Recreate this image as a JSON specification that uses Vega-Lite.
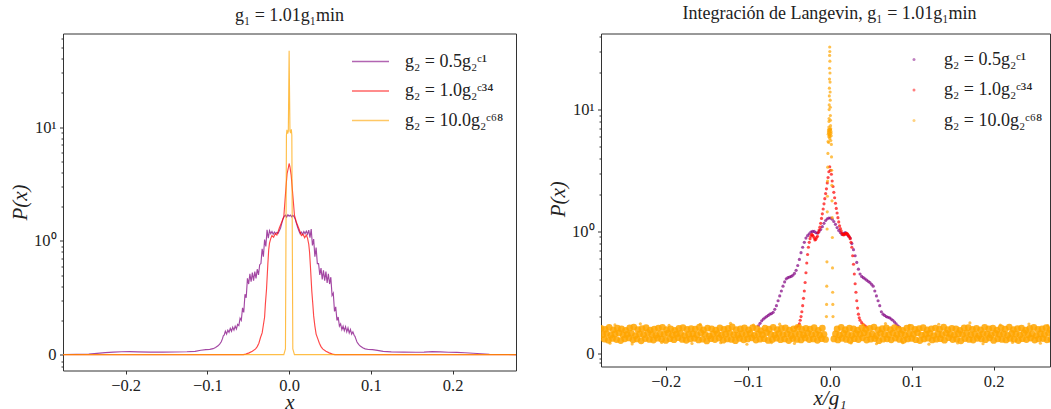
{
"$schema": "https://vega.github.io/schema/vega-lite/v6.json",
"background": "white",
"padding": {"left": 9, "top": 3.5, "right": 0, "bottom": 0},
"spacing": 30,
"config": {
  "font": "Liberation Serif",
  "view": {"stroke": "#333333", "strokeWidth": 1},
  "axis": {"labelFont": "Liberation Serif", "labelFontSize": 16.5, "labelColor": "#222222", "titleFont": "Liberation Serif", "titleFontSize": 21, "titleFontWeight": "normal", "titleFontStyle": "italic", "titleColor": "#222222", "domain": false, "grid": false, "tickColor": "#333333", "ticks": true, "labelPadding": 3.5, "titlePadding": 3},
  "title": {"font": "Liberation Serif", "fontSize": 18, "fontWeight": "normal", "color": "#222222", "offset": 5.5},
  "legend": {"labelFont": "Liberation Serif", "labelFontSize": 18, "labelColor": "#222222"}
},
"resolve": {"scale": {"color": "independent"}, "legend": {"color": "independent"}},
"datasets": {
"L": [
{"s":"a","x":-0.28,"y":0},{"s":"a","x":-0.26,"y":0.002},{"s":"a","x":-0.245,"y":0.005},{"s":"a","x":-0.235,"y":0.011},{"s":"a","x":-0.225,"y":0.017},{"s":"a","x":-0.215,"y":0.021},{"s":"a","x":-0.205,"y":0.025},{"s":"a","x":-0.195,"y":0.026},{"s":"a","x":-0.185,"y":0.024},{"s":"a","x":-0.17,"y":0.022},{"s":"a","x":-0.155,"y":0.021},{"s":"a","x":-0.14,"y":0.023},{"s":"a","x":-0.125,"y":0.025},{"s":"a","x":-0.115,"y":0.028},{"s":"a","x":-0.108,"y":0.038},{"s":"a","x":-0.102,"y":0.044},{"s":"a","x":-0.097,"y":0.046},{"s":"a","x":-0.093,"y":0.052},{"s":"a","x":-0.09,"y":0.062},{"s":"a","x":-0.087,"y":0.077},{"s":"a","x":-0.085,"y":0.092},{"s":"a","x":-0.083,"y":0.112},{"s":"a","x":-0.0815,"y":0.14},{"s":"a","x":-0.0805,"y":0.165},{"s":"a","x":-0.0795,"y":0.17},{"s":"a","x":-0.078,"y":0.205},{"s":"a","x":-0.0765,"y":0.18},{"s":"a","x":-0.075,"y":0.215},{"s":"a","x":-0.0735,"y":0.195},{"s":"a","x":-0.072,"y":0.23},{"s":"a","x":-0.0705,"y":0.205},{"s":"a","x":-0.069,"y":0.24},{"s":"a","x":-0.0675,"y":0.215},{"s":"a","x":-0.066,"y":0.25},{"s":"a","x":-0.0645,"y":0.225},{"s":"a","x":-0.063,"y":0.265},{"s":"a","x":-0.0615,"y":0.255},{"s":"a","x":-0.06,"y":0.32},{"s":"a","x":-0.0585,"y":0.3},{"s":"a","x":-0.057,"y":0.41},{"s":"a","x":-0.0555,"y":0.37},{"s":"a","x":-0.054,"y":0.53},{"s":"a","x":-0.0525,"y":0.5},{"s":"a","x":-0.051,"y":0.67},{"s":"a","x":-0.0495,"y":0.62},{"s":"a","x":-0.048,"y":0.71},{"s":"a","x":-0.0465,"y":0.64},{"s":"a","x":-0.045,"y":0.72},{"s":"a","x":-0.0435,"y":0.65},{"s":"a","x":-0.042,"y":0.73},{"s":"a","x":-0.0405,"y":0.67},{"s":"a","x":-0.039,"y":0.75},{"s":"a","x":-0.0375,"y":0.7},{"s":"a","x":-0.036,"y":0.79},{"s":"a","x":-0.0345,"y":0.8},{"s":"a","x":-0.033,"y":0.93},{"s":"a","x":-0.0315,"y":0.86},{"s":"a","x":-0.03,"y":1.03},{"s":"a","x":-0.0285,"y":0.95},{"s":"a","x":-0.027,"y":1.25},{"s":"a","x":-0.0255,"y":1.06},{"s":"a","x":-0.024,"y":1.23},{"s":"a","x":-0.0225,"y":1.16},{"s":"a","x":-0.021,"y":1.21},{"s":"a","x":-0.0195,"y":1.15},{"s":"a","x":-0.018,"y":1.2},{"s":"a","x":-0.0165,"y":1.16},{"s":"a","x":-0.015,"y":1.19},{"s":"a","x":-0.0135,"y":1.17},{"s":"a","x":-0.012,"y":1.23},{"s":"a","x":-0.0105,"y":1.3},{"s":"a","x":-0.009,"y":1.43},{"s":"a","x":-0.0075,"y":1.56},{"s":"a","x":-0.006,"y":1.66},{"s":"a","x":-0.0045,"y":1.7},{"s":"a","x":-0.003,"y":1.63},{"s":"a","x":-0.0015,"y":1.71},{"s":"a","x":0,"y":1.66},
{"s":"a","x":0.0015,"y":1.7},{"s":"a","x":0.003,"y":1.64},{"s":"a","x":0.0045,"y":1.69},{"s":"a","x":0.006,"y":1.65},{"s":"a","x":0.0075,"y":1.55},{"s":"a","x":0.009,"y":1.42},{"s":"a","x":0.0105,"y":1.31},{"s":"a","x":0.012,"y":1.22},{"s":"a","x":0.0135,"y":1.16},{"s":"a","x":0.015,"y":1.2},{"s":"a","x":0.0165,"y":1.15},{"s":"a","x":0.018,"y":1.21},{"s":"a","x":0.0195,"y":1.16},{"s":"a","x":0.021,"y":1.22},{"s":"a","x":0.0225,"y":1.15},{"s":"a","x":0.024,"y":1.24},{"s":"a","x":0.0255,"y":1.07},{"s":"a","x":0.027,"y":1.27},{"s":"a","x":0.0285,"y":0.96},{"s":"a","x":0.03,"y":1.04},{"s":"a","x":0.0315,"y":0.86},{"s":"a","x":0.033,"y":0.94},{"s":"a","x":0.0345,"y":0.8},{"s":"a","x":0.036,"y":0.8},{"s":"a","x":0.0375,"y":0.7},{"s":"a","x":0.039,"y":0.76},{"s":"a","x":0.0405,"y":0.66},{"s":"a","x":0.042,"y":0.74},{"s":"a","x":0.0435,"y":0.65},{"s":"a","x":0.045,"y":0.73},{"s":"a","x":0.0465,"y":0.63},{"s":"a","x":0.048,"y":0.71},{"s":"a","x":0.0495,"y":0.62},{"s":"a","x":0.051,"y":0.68},{"s":"a","x":0.0525,"y":0.52},{"s":"a","x":0.054,"y":0.54},{"s":"a","x":0.0555,"y":0.38},{"s":"a","x":0.057,"y":0.42},{"s":"a","x":0.0585,"y":0.3},{"s":"a","x":0.06,"y":0.33},{"s":"a","x":0.0615,"y":0.25},{"s":"a","x":0.063,"y":0.27},{"s":"a","x":0.0645,"y":0.22},{"s":"a","x":0.066,"y":0.25},{"s":"a","x":0.0675,"y":0.21},{"s":"a","x":0.069,"y":0.245},{"s":"a","x":0.0705,"y":0.2},{"s":"a","x":0.072,"y":0.235},{"s":"a","x":0.0735,"y":0.19},{"s":"a","x":0.075,"y":0.22},{"s":"a","x":0.0765,"y":0.18},{"s":"a","x":0.078,"y":0.2},{"s":"a","x":0.0795,"y":0.17},{"s":"a","x":0.0805,"y":0.16},{"s":"a","x":0.0815,"y":0.14},{"s":"a","x":0.083,"y":0.11},{"s":"a","x":0.085,"y":0.09},{"s":"a","x":0.087,"y":0.075},{"s":"a","x":0.09,"y":0.06},{"s":"a","x":0.093,"y":0.05},{"s":"a","x":0.097,"y":0.045},{"s":"a","x":0.102,"y":0.043},{"s":"a","x":0.108,"y":0.037},{"s":"a","x":0.115,"y":0.028},{"s":"a","x":0.125,"y":0.024},{"s":"a","x":0.14,"y":0.022},{"s":"a","x":0.155,"y":0.02},{"s":"a","x":0.165,"y":0.022},{"s":"a","x":0.175,"y":0.026},{"s":"a","x":0.185,"y":0.024},{"s":"a","x":0.195,"y":0.02},{"s":"a","x":0.205,"y":0.019},{"s":"a","x":0.215,"y":0.016},{"s":"a","x":0.225,"y":0.012},{"s":"a","x":0.235,"y":0.007},{"s":"a","x":0.245,"y":0.003},{"s":"a","x":0.26,"y":0.001},{"s":"a","x":0.28,"y":0},
{"s":"b","x":-0.28,"y":0},{"s":"b","x":-0.056,"y":0},{"s":"b","x":-0.053,"y":0.004},{"s":"b","x":-0.049,"y":0.015},{"s":"b","x":-0.045,"y":0.03},{"s":"b","x":-0.041,"y":0.05},{"s":"b","x":-0.039,"y":0.07},{"s":"b","x":-0.037,"y":0.1},{"s":"b","x":-0.035,"y":0.15},{"s":"b","x":-0.033,"y":0.19},{"s":"b","x":-0.0315,"y":0.26},{"s":"b","x":-0.03,"y":0.33},{"s":"b","x":-0.029,"y":0.45},{"s":"b","x":-0.0277,"y":0.57},{"s":"b","x":-0.026,"y":0.8},{"s":"b","x":-0.025,"y":0.92},{"s":"b","x":-0.024,"y":0.98},{"s":"b","x":-0.0225,"y":1.05},{"s":"b","x":-0.021,"y":1.12},{"s":"b","x":-0.019,"y":1.08},{"s":"b","x":-0.017,"y":1.16},{"s":"b","x":-0.015,"y":1.13},{"s":"b","x":-0.012,"y":1.3},{"s":"b","x":-0.009,"y":1.47},{"s":"b","x":-0.0065,"y":1.65},{"s":"b","x":-0.005,"y":2.3},{"s":"b","x":-0.0035,"y":3.2},{"s":"b","x":-0.0025,"y":3.9},{"s":"b","x":-0.001,"y":4.4},{"s":"b","x":0,"y":4.8},{"s":"b","x":0.001,"y":4.5},{"s":"b","x":0.0025,"y":3.8},{"s":"b","x":0.0035,"y":3.1},{"s":"b","x":0.005,"y":2.3},{"s":"b","x":0.0065,"y":1.7},{"s":"b","x":0.009,"y":1.45},{"s":"b","x":0.012,"y":1.28},{"s":"b","x":0.015,"y":1.12},{"s":"b","x":0.017,"y":1.15},{"s":"b","x":0.019,"y":1.07},{"s":"b","x":0.021,"y":1.13},{"s":"b","x":0.0225,"y":1.06},{"s":"b","x":0.024,"y":0.97},{"s":"b","x":0.025,"y":0.9},{"s":"b","x":0.026,"y":0.78},{"s":"b","x":0.0277,"y":0.56},{"s":"b","x":0.029,"y":0.44},{"s":"b","x":0.03,"y":0.34},{"s":"b","x":0.0315,"y":0.25},{"s":"b","x":0.033,"y":0.18},{"s":"b","x":0.035,"y":0.14},{"s":"b","x":0.037,"y":0.1},{"s":"b","x":0.039,"y":0.07},{"s":"b","x":0.041,"y":0.05},{"s":"b","x":0.045,"y":0.03},{"s":"b","x":0.049,"y":0.015},{"s":"b","x":0.053,"y":0.004},{"s":"b","x":0.056,"y":0},{"s":"b","x":0.28,"y":0},
{"s":"c","x":-0.28,"y":0},{"s":"c","x":-0.0065,"y":0},{"s":"c","x":-0.0045,"y":0.05},{"s":"c","x":-0.0037,"y":2},{"s":"c","x":-0.0033,"y":8.5},{"s":"c","x":-0.0027,"y":9.5},{"s":"c","x":-0.0018,"y":8.8},{"s":"c","x":-0.001,"y":9.2},{"s":"c","x":-0.0005,"y":20},{"s":"c","x":0,"y":47},{"s":"c","x":0.0005,"y":20},{"s":"c","x":0.001,"y":9.3},{"s":"c","x":0.0018,"y":8.9},{"s":"c","x":0.0027,"y":9.6},{"s":"c","x":0.0033,"y":8.5},{"s":"c","x":0.0037,"y":2},{"s":"c","x":0.0045,"y":0.05},{"s":"c","x":0.0065,"y":0},{"s":"c","x":0.28,"y":0}
],
"R": [
{"s":"a","x":-0.087,"y":0.225},{"s":"a","x":-0.085,"y":0.245},{"s":"a","x":-0.083,"y":0.265},{"s":"a","x":-0.081,"y":0.28},{"s":"a","x":-0.079,"y":0.29},{"s":"a","x":-0.077,"y":0.3},{"s":"a","x":-0.075,"y":0.31},{"s":"a","x":-0.073,"y":0.32},{"s":"a","x":-0.071,"y":0.325},{"s":"a","x":-0.069,"y":0.335},{"s":"a","x":-0.067,"y":0.36},{"s":"a","x":-0.065,"y":0.39},{"s":"a","x":-0.063,"y":0.43},{"s":"a","x":-0.061,"y":0.47},{"s":"a","x":-0.059,"y":0.51},{"s":"a","x":-0.057,"y":0.55},{"s":"a","x":-0.055,"y":0.585},{"s":"a","x":-0.053,"y":0.61},{"s":"a","x":-0.051,"y":0.62},{"s":"a","x":-0.049,"y":0.625},{"s":"a","x":-0.047,"y":0.63},{"s":"a","x":-0.045,"y":0.64},{"s":"a","x":-0.043,"y":0.655},{"s":"a","x":-0.041,"y":0.68},{"s":"a","x":-0.039,"y":0.72},{"s":"a","x":-0.037,"y":0.77},{"s":"a","x":-0.035,"y":0.825},{"s":"a","x":-0.033,"y":0.87},{"s":"a","x":-0.031,"y":0.91},{"s":"a","x":-0.029,"y":0.945},{"s":"a","x":-0.027,"y":0.965},{"s":"a","x":-0.025,"y":0.98},{"s":"a","x":-0.023,"y":0.995},{"s":"a","x":-0.021,"y":1.0},{"s":"a","x":-0.019,"y":1.0},{"s":"a","x":-0.017,"y":0.99},{"s":"a","x":-0.015,"y":0.985},{"s":"a","x":-0.013,"y":1.0},{"s":"a","x":-0.011,"y":1.04},{"s":"a","x":-0.009,"y":1.1},{"s":"a","x":-0.007,"y":1.17},{"s":"a","x":-0.005,"y":1.23},{"s":"a","x":-0.003,"y":1.27},{"s":"a","x":-0.001,"y":1.29},
{"s":"a","x":0.001,"y":1.29},{"s":"a","x":0.003,"y":1.26},{"s":"a","x":0.005,"y":1.21},{"s":"a","x":0.007,"y":1.15},{"s":"a","x":0.009,"y":1.08},{"s":"a","x":0.011,"y":1.02},{"s":"a","x":0.013,"y":0.99},{"s":"a","x":0.015,"y":0.975},{"s":"a","x":0.017,"y":0.985},{"s":"a","x":0.019,"y":0.99},{"s":"a","x":0.021,"y":0.975},{"s":"a","x":0.023,"y":0.96},{"s":"a","x":0.025,"y":0.945},{"s":"a","x":0.027,"y":0.9},{"s":"a","x":0.029,"y":0.85},{"s":"a","x":0.031,"y":0.8},{"s":"a","x":0.033,"y":0.745},{"s":"a","x":0.035,"y":0.69},{"s":"a","x":0.037,"y":0.65},{"s":"a","x":0.039,"y":0.63},{"s":"a","x":0.041,"y":0.62},{"s":"a","x":0.043,"y":0.61},{"s":"a","x":0.045,"y":0.6},{"s":"a","x":0.047,"y":0.59},{"s":"a","x":0.049,"y":0.58},{"s":"a","x":0.051,"y":0.565},{"s":"a","x":0.053,"y":0.55},{"s":"a","x":0.055,"y":0.51},{"s":"a","x":0.057,"y":0.47},{"s":"a","x":0.059,"y":0.43},{"s":"a","x":0.061,"y":0.39},{"s":"a","x":0.063,"y":0.34},{"s":"a","x":0.065,"y":0.32},{"s":"a","x":0.067,"y":0.31},{"s":"a","x":0.069,"y":0.3},{"s":"a","x":0.071,"y":0.295},{"s":"a","x":0.073,"y":0.29},{"s":"a","x":0.075,"y":0.28},{"s":"a","x":0.077,"y":0.27},{"s":"a","x":0.079,"y":0.255},{"s":"a","x":0.081,"y":0.24},{"s":"a","x":0.083,"y":0.225},{"s":"a","x":0.085,"y":0.215},
{"s":"b","x":-0.042,"y":0.21},{"s":"b","x":-0.04,"y":0.215},{"s":"b","x":-0.038,"y":0.225},{"s":"b","x":-0.037,"y":0.24},{"s":"b","x":-0.036,"y":0.27},{"s":"b","x":-0.035,"y":0.3},{"s":"b","x":-0.034,"y":0.34},{"s":"b","x":-0.033,"y":0.39},{"s":"b","x":-0.032,"y":0.45},{"s":"b","x":-0.031,"y":0.51},{"s":"b","x":-0.03,"y":0.58},{"s":"b","x":-0.029,"y":0.66},{"s":"b","x":-0.028,"y":0.74},{"s":"b","x":-0.027,"y":0.81},{"s":"b","x":-0.026,"y":0.87},{"s":"b","x":-0.025,"y":0.91},{"s":"b","x":-0.024,"y":0.94},{"s":"b","x":-0.023,"y":0.96},{"s":"b","x":-0.022,"y":0.975},{"s":"b","x":-0.021,"y":0.97},{"s":"b","x":-0.02,"y":0.96},{"s":"b","x":-0.019,"y":0.945},{"s":"b","x":-0.018,"y":0.93},{"s":"b","x":-0.017,"y":0.935},{"s":"b","x":-0.016,"y":0.95},{"s":"b","x":-0.015,"y":0.96},{"s":"b","x":-0.014,"y":0.99},{"s":"b","x":-0.013,"y":1.03},{"s":"b","x":-0.012,"y":1.09},{"s":"b","x":-0.011,"y":1.17},{"s":"b","x":-0.01,"y":1.28},{"s":"b","x":-0.009,"y":1.4},{"s":"b","x":-0.008,"y":1.53},{"s":"b","x":-0.007,"y":1.7},{"s":"b","x":-0.006,"y":1.87},{"s":"b","x":-0.005,"y":2.05},{"s":"b","x":-0.004,"y":2.25},{"s":"b","x":-0.003,"y":2.5},{"s":"b","x":-0.002,"y":2.78},{"s":"b","x":-0.001,"y":3.1},{"s":"b","x":0,"y":3.43},{"s":"b","x":0.001,"y":3.2},{"s":"b","x":0.002,"y":2.95},{"s":"b","x":0.003,"y":2.6},{"s":"b","x":0.004,"y":2.35},{"s":"b","x":0.005,"y":2.1},{"s":"b","x":0.006,"y":1.9},{"s":"b","x":0.007,"y":1.72},{"s":"b","x":0.008,"y":1.55},{"s":"b","x":0.009,"y":1.42},{"s":"b","x":0.01,"y":1.3},{"s":"b","x":0.011,"y":1.2},{"s":"b","x":0.012,"y":1.12},{"s":"b","x":0.013,"y":1.06},{"s":"b","x":0.014,"y":1.01},{"s":"b","x":0.015,"y":0.985},{"s":"b","x":0.016,"y":0.975},{"s":"b","x":0.017,"y":0.97},{"s":"b","x":0.018,"y":0.975},{"s":"b","x":0.019,"y":0.98},{"s":"b","x":0.02,"y":0.985},{"s":"b","x":0.021,"y":0.985},{"s":"b","x":0.022,"y":0.975},{"s":"b","x":0.023,"y":0.965},{"s":"b","x":0.024,"y":0.955},{"s":"b","x":0.025,"y":0.94},{"s":"b","x":0.026,"y":0.91},{"s":"b","x":0.027,"y":0.87},{"s":"b","x":0.028,"y":0.8},{"s":"b","x":0.029,"y":0.73},{"s":"b","x":0.03,"y":0.65},{"s":"b","x":0.031,"y":0.57},{"s":"b","x":0.032,"y":0.5},{"s":"b","x":0.033,"y":0.43},{"s":"b","x":0.034,"y":0.37},{"s":"b","x":0.035,"y":0.32},{"s":"b","x":0.036,"y":0.29},{"s":"b","x":0.037,"y":0.27},{"s":"b","x":0.039,"y":0.25},{"s":"b","x":0.041,"y":0.235},{"s":"b","x":0.043,"y":0.225},{"s":"b","x":0.045,"y":0.215},
{"s":"c","x":-0.004,"y":0.3},{"s":"c","x":-0.0038,"y":0.4},{"s":"c","x":-0.0036,"y":0.55},{"s":"c","x":-0.0034,"y":0.75},{"s":"c","x":-0.0032,"y":1.05},{"s":"c","x":-0.003,"y":1.45},{"s":"c","x":-0.0028,"y":1.95},{"s":"c","x":-0.0026,"y":2.6},{"s":"c","x":-0.0024,"y":3.4},{"s":"c","x":-0.0022,"y":4.4},{"s":"c","x":-0.002,"y":5.5},{"s":"c","x":-0.0018,"y":6.3},{"s":"c","x":-0.0016,"y":6.7},{"s":"c","x":-0.0014,"y":6.5},{"s":"c","x":-0.0012,"y":6.9},{"s":"c","x":-0.001,"y":7.2},{"s":"c","x":-0.0008,"y":8.5},{"s":"c","x":-0.0006,"y":11},{"s":"c","x":-0.0004,"y":15},{"s":"c","x":-0.0002,"y":22},{"s":"c","x":0,"y":33},{"s":"c","x":0.0002,"y":25},{"s":"c","x":0.0004,"y":17},{"s":"c","x":0.0006,"y":12},{"s":"c","x":0.0008,"y":9},{"s":"c","x":0.001,"y":7.4},{"s":"c","x":0.0012,"y":6.8},{"s":"c","x":0.0014,"y":6.4},{"s":"c","x":0.0016,"y":6.6},{"s":"c","x":0.0018,"y":6.1},{"s":"c","x":0.002,"y":5.2},{"s":"c","x":0.0022,"y":4.1},{"s":"c","x":0.0024,"y":3.2},{"s":"c","x":0.0026,"y":2.4},{"s":"c","x":0.0028,"y":1.8},{"s":"c","x":0.003,"y":1.3},{"s":"c","x":0.0032,"y":0.95},{"s":"c","x":0.0034,"y":0.7},{"s":"c","x":0.0036,"y":0.5},{"s":"c","x":0.0038,"y":0.4},{"s":"c","x":0.004,"y":0.3},
{"s":"c","x":-0.0005,"y":6.2},{"s":"c","x":0.0005,"y":6.9},{"s":"c","x":-0.0011,"y":6.0},{"s":"c","x":0.0011,"y":7.0},{"s":"c","x":-0.0003,"y":6.6},{"s":"c","x":0.0003,"y":6.3},{"s":"c","x":-0.0001,"y":28},{"s":"c","x":0.0001,"y":30},{"s":"c","x":-0.0003,"y":18},{"s":"c","x":0.0003,"y":20},{"s":"c","x":-0.0005,"y":13},{"s":"c","x":0.0005,"y":14},{"s":"c","x":-0.0007,"y":10},{"s":"c","x":0.0007,"y":10.5},{"s":"c","x":-0.0009,"y":8},{"s":"c","x":0.0009,"y":8.2},{"s":"c","x":-0.0002,"y":6.8},{"s":"c","x":0.0002,"y":6.0},{"s":"c","x":0,"y":5.8},{"s":"c","x":-0.0013,"y":5.4},{"s":"c","x":0.0013,"y":5.6},
{"s":"c","x":-0.262,"y":0.232},{"s":"c","x":-0.231,"y":0.241},{"s":"c","x":-0.196,"y":0.228},{"s":"c","x":-0.158,"y":0.236},{"s":"c","x":-0.121,"y":0.245},{"s":"c","x":-0.093,"y":0.23},{"s":"c","x":-0.061,"y":0.238},{"s":"c","x":-0.036,"y":0.227},{"s":"c","x":0.041,"y":0.233},{"s":"c","x":0.068,"y":0.243},{"s":"c","x":0.097,"y":0.229},{"s":"c","x":0.133,"y":0.237},{"s":"c","x":0.171,"y":0.248},{"s":"c","x":0.208,"y":0.231},{"s":"c","x":0.243,"y":0.239},{"s":"c","x":0.266,"y":0.226},
{"s":"c","x":-0.268,"y":0.082},{"s":"c","x":-0.241,"y":0.076},{"s":"c","x":-0.205,"y":0.088},{"s":"c","x":-0.168,"y":0.079},{"s":"c","x":-0.133,"y":0.085},{"s":"c","x":-0.101,"y":0.073},{"s":"c","x":-0.071,"y":0.087},{"s":"c","x":-0.043,"y":0.08},{"s":"c","x":0.026,"y":0.084},{"s":"c","x":0.057,"y":0.077},{"s":"c","x":0.089,"y":0.086},{"s":"c","x":0.121,"y":0.074},{"s":"c","x":0.156,"y":0.083},{"s":"c","x":0.187,"y":0.078},{"s":"c","x":0.223,"y":0.088},{"s":"c","x":0.257,"y":0.081}
],
"N": [
{"s":"c","x":-0.279,"y":0.203},{"s":"c","x":-0.274,"y":0.196},{"s":"c","x":-0.269,"y":0.211},{"s":"c","x":-0.264,"y":0.192},{"s":"c","x":-0.259,"y":0.205},{"s":"c","x":-0.254,"y":0.199},{"s":"c","x":-0.249,"y":0.188},{"s":"c","x":-0.244,"y":0.207},{"s":"c","x":-0.239,"y":0.214},{"s":"c","x":-0.234,"y":0.194},{"s":"c","x":-0.229,"y":0.201},{"s":"c","x":-0.224,"y":0.209},{"s":"c","x":-0.219,"y":0.19},{"s":"c","x":-0.214,"y":0.197},{"s":"c","x":-0.209,"y":0.206},{"s":"c","x":-0.204,"y":0.212},{"s":"c","x":-0.199,"y":0.193},{"s":"c","x":-0.194,"y":0.2},{"s":"c","x":-0.189,"y":0.187},{"s":"c","x":-0.184,"y":0.204},{"s":"c","x":-0.179,"y":0.21},{"s":"c","x":-0.174,"y":0.195},{"s":"c","x":-0.169,"y":0.202},{"s":"c","x":-0.164,"y":0.198},{"s":"c","x":-0.159,"y":0.213},{"s":"c","x":-0.154,"y":0.191},{"s":"c","x":-0.149,"y":0.206},{"s":"c","x":-0.144,"y":0.2},{"s":"c","x":-0.139,"y":0.189},{"s":"c","x":-0.134,"y":0.208},{"s":"c","x":-0.129,"y":0.196},{"s":"c","x":-0.124,"y":0.203},{"s":"c","x":-0.119,"y":0.215},{"s":"c","x":-0.114,"y":0.193},{"s":"c","x":-0.109,"y":0.199},{"s":"c","x":-0.104,"y":0.207},{"s":"c","x":-0.099,"y":0.192},{"s":"c","x":-0.094,"y":0.21},{"s":"c","x":-0.089,"y":0.201},{"s":"c","x":-0.084,"y":0.186},{"s":"c","x":-0.079,"y":0.205},{"s":"c","x":-0.074,"y":0.197},{"s":"c","x":-0.069,"y":0.212},{"s":"c","x":-0.064,"y":0.194},{"s":"c","x":-0.059,"y":0.203},{"s":"c","x":-0.054,"y":0.208},{"s":"c","x":-0.049,"y":0.19},{"s":"c","x":-0.044,"y":0.2},{"s":"c","x":-0.039,"y":0.211},{"s":"c","x":-0.034,"y":0.195},{"s":"c","x":-0.029,"y":0.204},{"s":"c","x":-0.024,"y":0.198},{"s":"c","x":-0.019,"y":0.209},{"s":"c","x":-0.014,"y":0.188},{"s":"c","x":-0.009,"y":0.206},
{"s":"c","x":0.009,"y":0.199},{"s":"c","x":0.014,"y":0.212},{"s":"c","x":0.019,"y":0.193},{"s":"c","x":0.024,"y":0.205},{"s":"c","x":0.029,"y":0.2},{"s":"c","x":0.034,"y":0.189},{"s":"c","x":0.039,"y":0.208},{"s":"c","x":0.044,"y":0.196},{"s":"c","x":0.049,"y":0.203},{"s":"c","x":0.054,"y":0.214},{"s":"c","x":0.059,"y":0.192},{"s":"c","x":0.064,"y":0.201},{"s":"c","x":0.069,"y":0.207},{"s":"c","x":0.074,"y":0.194},{"s":"c","x":0.079,"y":0.21},{"s":"c","x":0.084,"y":0.198},{"s":"c","x":0.089,"y":0.187},{"s":"c","x":0.094,"y":0.205},{"s":"c","x":0.099,"y":0.211},{"s":"c","x":0.104,"y":0.195},{"s":"c","x":0.109,"y":0.202},{"s":"c","x":0.114,"y":0.209},{"s":"c","x":0.119,"y":0.191},{"s":"c","x":0.124,"y":0.2},{"s":"c","x":0.129,"y":0.206},{"s":"c","x":0.134,"y":0.197},{"s":"c","x":0.139,"y":0.213},{"s":"c","x":0.144,"y":0.193},{"s":"c","x":0.149,"y":0.204},{"s":"c","x":0.154,"y":0.199},{"s":"c","x":0.159,"y":0.188},{"s":"c","x":0.164,"y":0.207},{"s":"c","x":0.169,"y":0.21},{"s":"c","x":0.174,"y":0.196},{"s":"c","x":0.179,"y":0.203},{"s":"c","x":0.184,"y":0.192},{"s":"c","x":0.189,"y":0.212},{"s":"c","x":0.194,"y":0.2},{"s":"c","x":0.199,"y":0.205},{"s":"c","x":0.204,"y":0.19},{"s":"c","x":0.209,"y":0.208},{"s":"c","x":0.214,"y":0.197},{"s":"c","x":0.219,"y":0.214},{"s":"c","x":0.224,"y":0.194},{"s":"c","x":0.229,"y":0.201},{"s":"c","x":0.234,"y":0.206},{"s":"c","x":0.239,"y":0.189},{"s":"c","x":0.244,"y":0.203},{"s":"c","x":0.249,"y":0.211},{"s":"c","x":0.254,"y":0.195},{"s":"c","x":0.259,"y":0.2},{"s":"c","x":0.264,"y":0.209},{"s":"c","x":0.269,"y":0.193},{"s":"c","x":0.274,"y":0.205},{"s":"c","x":0.279,"y":0.198},
{"s":"c","x":-0.277,"y":0.152},{"s":"c","x":-0.272,"y":0.161},{"s":"c","x":-0.267,"y":0.147},{"s":"c","x":-0.262,"y":0.158},{"s":"c","x":-0.257,"y":0.166},{"s":"c","x":-0.252,"y":0.149},{"s":"c","x":-0.247,"y":0.155},{"s":"c","x":-0.242,"y":0.163},{"s":"c","x":-0.237,"y":0.144},{"s":"c","x":-0.232,"y":0.157},{"s":"c","x":-0.227,"y":0.151},{"s":"c","x":-0.222,"y":0.168},{"s":"c","x":-0.217,"y":0.153},{"s":"c","x":-0.212,"y":0.146},{"s":"c","x":-0.207,"y":0.16},{"s":"c","x":-0.202,"y":0.155},{"s":"c","x":-0.197,"y":0.164},{"s":"c","x":-0.192,"y":0.148},{"s":"c","x":-0.187,"y":0.157},{"s":"c","x":-0.182,"y":0.162},{"s":"c","x":-0.177,"y":0.145},{"s":"c","x":-0.172,"y":0.154},{"s":"c","x":-0.167,"y":0.159},{"s":"c","x":-0.162,"y":0.15},{"s":"c","x":-0.157,"y":0.167},{"s":"c","x":-0.152,"y":0.153},{"s":"c","x":-0.147,"y":0.142},{"s":"c","x":-0.142,"y":0.158},{"s":"c","x":-0.137,"y":0.161},{"s":"c","x":-0.132,"y":0.149},{"s":"c","x":-0.127,"y":0.156},{"s":"c","x":-0.122,"y":0.165},{"s":"c","x":-0.117,"y":0.151},{"s":"c","x":-0.112,"y":0.147},{"s":"c","x":-0.107,"y":0.16},{"s":"c","x":-0.102,"y":0.154},{"s":"c","x":-0.097,"y":0.163},{"s":"c","x":-0.092,"y":0.146},{"s":"c","x":-0.087,"y":0.157},{"s":"c","x":-0.082,"y":0.152},{"s":"c","x":-0.077,"y":0.169},{"s":"c","x":-0.072,"y":0.155},{"s":"c","x":-0.067,"y":0.148},{"s":"c","x":-0.062,"y":0.161},{"s":"c","x":-0.057,"y":0.153},{"s":"c","x":-0.052,"y":0.158},{"s":"c","x":-0.047,"y":0.144},{"s":"c","x":-0.042,"y":0.162},{"s":"c","x":-0.037,"y":0.156},{"s":"c","x":-0.032,"y":0.15},{"s":"c","x":-0.027,"y":0.164},{"s":"c","x":-0.022,"y":0.153},{"s":"c","x":-0.017,"y":0.159},{"s":"c","x":-0.012,"y":0.147},{"s":"c","x":-0.007,"y":0.155},
{"s":"c","x":0.007,"y":0.158},{"s":"c","x":0.012,"y":0.149},{"s":"c","x":0.017,"y":0.163},{"s":"c","x":0.022,"y":0.154},{"s":"c","x":0.027,"y":0.146},{"s":"c","x":0.032,"y":0.16},{"s":"c","x":0.037,"y":0.156},{"s":"c","x":0.042,"y":0.167},{"s":"c","x":0.047,"y":0.151},{"s":"c","x":0.052,"y":0.157},{"s":"c","x":0.057,"y":0.143},{"s":"c","x":0.062,"y":0.162},{"s":"c","x":0.067,"y":0.155},{"s":"c","x":0.072,"y":0.15},{"s":"c","x":0.077,"y":0.165},{"s":"c","x":0.082,"y":0.153},{"s":"c","x":0.087,"y":0.159},{"s":"c","x":0.092,"y":0.147},{"s":"c","x":0.097,"y":0.161},{"s":"c","x":0.102,"y":0.154},{"s":"c","x":0.107,"y":0.168},{"s":"c","x":0.112,"y":0.149},{"s":"c","x":0.117,"y":0.156},{"s":"c","x":0.122,"y":0.162},{"s":"c","x":0.127,"y":0.145},{"s":"c","x":0.132,"y":0.158},{"s":"c","x":0.137,"y":0.152},{"s":"c","x":0.142,"y":0.164},{"s":"c","x":0.147,"y":0.155},{"s":"c","x":0.152,"y":0.148},{"s":"c","x":0.157,"y":0.16},{"s":"c","x":0.162,"y":0.153},{"s":"c","x":0.167,"y":0.166},{"s":"c","x":0.172,"y":0.151},{"s":"c","x":0.177,"y":0.157},{"s":"c","x":0.182,"y":0.144},{"s":"c","x":0.187,"y":0.161},{"s":"c","x":0.192,"y":0.156},{"s":"c","x":0.197,"y":0.15},{"s":"c","x":0.202,"y":0.163},{"s":"c","x":0.207,"y":0.154},{"s":"c","x":0.212,"y":0.159},{"s":"c","x":0.217,"y":0.146},{"s":"c","x":0.222,"y":0.162},{"s":"c","x":0.227,"y":0.155},{"s":"c","x":0.232,"y":0.149},{"s":"c","x":0.237,"y":0.167},{"s":"c","x":0.242,"y":0.152},{"s":"c","x":0.247,"y":0.158},{"s":"c","x":0.252,"y":0.145},{"s":"c","x":0.257,"y":0.16},{"s":"c","x":0.262,"y":0.154},{"s":"c","x":0.267,"y":0.163},{"s":"c","x":0.272,"y":0.15},{"s":"c","x":0.277,"y":0.157},
{"s":"c","x":-0.275,"y":0.114},{"s":"c","x":-0.27,"y":0.106},{"s":"c","x":-0.265,"y":0.121},{"s":"c","x":-0.26,"y":0.111},{"s":"c","x":-0.255,"y":0.103},{"s":"c","x":-0.25,"y":0.118},{"s":"c","x":-0.245,"y":0.125},{"s":"c","x":-0.24,"y":0.109},{"s":"c","x":-0.235,"y":0.116},{"s":"c","x":-0.23,"y":0.101},{"s":"c","x":-0.225,"y":0.12},{"s":"c","x":-0.22,"y":0.113},{"s":"c","x":-0.215,"y":0.107},{"s":"c","x":-0.21,"y":0.123},{"s":"c","x":-0.205,"y":0.115},{"s":"c","x":-0.2,"y":0.104},{"s":"c","x":-0.195,"y":0.119},{"s":"c","x":-0.19,"y":0.11},{"s":"c","x":-0.185,"y":0.127},{"s":"c","x":-0.18,"y":0.112},{"s":"c","x":-0.175,"y":0.105},{"s":"c","x":-0.17,"y":0.117},{"s":"c","x":-0.165,"y":0.122},{"s":"c","x":-0.16,"y":0.108},{"s":"c","x":-0.155,"y":0.114},{"s":"c","x":-0.15,"y":0.1},{"s":"c","x":-0.145,"y":0.119},{"s":"c","x":-0.14,"y":0.111},{"s":"c","x":-0.135,"y":0.124},{"s":"c","x":-0.13,"y":0.106},{"s":"c","x":-0.125,"y":0.116},{"s":"c","x":-0.12,"y":0.113},{"s":"c","x":-0.115,"y":0.102},{"s":"c","x":-0.11,"y":0.121},{"s":"c","x":-0.105,"y":0.109},{"s":"c","x":-0.1,"y":0.117},{"s":"c","x":-0.095,"y":0.126},{"s":"c","x":-0.09,"y":0.107},{"s":"c","x":-0.085,"y":0.114},{"s":"c","x":-0.08,"y":0.119},{"s":"c","x":-0.075,"y":0.104},{"s":"c","x":-0.07,"y":0.112},{"s":"c","x":-0.065,"y":0.123},{"s":"c","x":-0.06,"y":0.11},{"s":"c","x":-0.055,"y":0.116},{"s":"c","x":-0.05,"y":0.103},{"s":"c","x":-0.045,"y":0.12},{"s":"c","x":-0.04,"y":0.113},{"s":"c","x":-0.035,"y":0.108},{"s":"c","x":-0.03,"y":0.125},{"s":"c","x":-0.025,"y":0.111},{"s":"c","x":-0.02,"y":0.117},{"s":"c","x":-0.015,"y":0.105},{"s":"c","x":-0.01,"y":0.119},{"s":"c","x":-0.005,"y":0.112},
{"s":"c","x":0.005,"y":0.117},{"s":"c","x":0.01,"y":0.108},{"s":"c","x":0.015,"y":0.122},{"s":"c","x":0.02,"y":0.113},{"s":"c","x":0.025,"y":0.104},{"s":"c","x":0.03,"y":0.119},{"s":"c","x":0.035,"y":0.111},{"s":"c","x":0.04,"y":0.126},{"s":"c","x":0.045,"y":0.107},{"s":"c","x":0.05,"y":0.115},{"s":"c","x":0.055,"y":0.12},{"s":"c","x":0.06,"y":0.102},{"s":"c","x":0.065,"y":0.114},{"s":"c","x":0.07,"y":0.118},{"s":"c","x":0.075,"y":0.109},{"s":"c","x":0.08,"y":0.124},{"s":"c","x":0.085,"y":0.112},{"s":"c","x":0.09,"y":0.105},{"s":"c","x":0.095,"y":0.117},{"s":"c","x":0.1,"y":0.121},{"s":"c","x":0.105,"y":0.11},{"s":"c","x":0.11,"y":0.103},{"s":"c","x":0.115,"y":0.116},{"s":"c","x":0.12,"y":0.123},{"s":"c","x":0.125,"y":0.108},{"s":"c","x":0.13,"y":0.114},{"s":"c","x":0.135,"y":0.119},{"s":"c","x":0.14,"y":0.106},{"s":"c","x":0.145,"y":0.127},{"s":"c","x":0.15,"y":0.111},{"s":"c","x":0.155,"y":0.115},{"s":"c","x":0.16,"y":0.101},{"s":"c","x":0.165,"y":0.12},{"s":"c","x":0.17,"y":0.113},{"s":"c","x":0.175,"y":0.107},{"s":"c","x":0.18,"y":0.122},{"s":"c","x":0.185,"y":0.116},{"s":"c","x":0.19,"y":0.11},{"s":"c","x":0.195,"y":0.125},{"s":"c","x":0.2,"y":0.104},{"s":"c","x":0.205,"y":0.118},{"s":"c","x":0.21,"y":0.112},{"s":"c","x":0.215,"y":0.108},{"s":"c","x":0.22,"y":0.121},{"s":"c","x":0.225,"y":0.114},{"s":"c","x":0.23,"y":0.103},{"s":"c","x":0.235,"y":0.119},{"s":"c","x":0.24,"y":0.111},{"s":"c","x":0.245,"y":0.124},{"s":"c","x":0.25,"y":0.107},{"s":"c","x":0.255,"y":0.116},{"s":"c","x":0.26,"y":0.12},{"s":"c","x":0.265,"y":0.109},{"s":"c","x":0.27,"y":0.113},{"s":"c","x":0.275,"y":0.118}
]
},
"hconcat": [
{
  "width": 453, "height": 337,
  "view": {"stroke": "#333333", "strokeWidth": 1, "fill": "white"},
  "title": {"text": "g₁ = 1.01g₁min"},
  "data": {"name": "L"},
  "mark": {"type": "line", "strokeWidth": 1.15, "opacity": 0.72, "clip": true},
  "encoding": {
    "x": {"field": "x", "type": "quantitative", "scale": {"domain": [-0.2766, 0.2775], "nice": false, "zero": false},
          "axis": {"title": "x", "values": [-0.2, -0.1, 0, 0.1, 0.2], "format": ".1f", "tickSize": 3.5, "labelPadding": 3.5, "titlePadding": -3}},
    "y": {"field": "y", "type": "quantitative",
          "scale": {"type": "linear", "nice": false, "zero": false,
                    "domain": [-0.14, 0, 1, 1.25, 1.5, 2, 2.5, 3, 4, 5, 6, 7, 8, 10, 12.5, 15, 20, 25, 30, 40, 50, 66.37],
                    "range": [337, 321.07, 207.3, 196.27, 187.27, 173.05, 162.03, 153.02, 138.8, 127.78, 118.77, 111.15, 104.55, 93.53, 82.5, 73.49, 59.28, 48.25, 39.25, 25.03, 14.01, 0]},
          "axis": {"title": "P(x)", "values": [-0.105, -0.06, 0, 0.301, 0.477, 0.602, 0.699, 0.778, 0.845, 0.903, 0.954, 1, 2, 3, 4, 5, 6, 7, 8, 9, 10, 20, 30, 40, 50, 60],
                   "labelExpr": "datum.value === 0 ? '0' : datum.value === 1 ? '10⁰' : datum.value === 10 ? '10¹' : ''",
                   "labelOverlap": false,
                   "tickSize": {"condition": {"test": "datum.value === 0 || datum.value === 1 || datum.value === 10", "value": 3.5}, "value": 2}}},
    "color": {"field": "s", "type": "nominal",
              "scale": {"domain": ["a", "b", "c"], "range": ["#800080", "#ff0000", "#ffa500"]},
              "legend": {"orient": "none", "legendX": 288, "legendY": 14, "title": null, "symbolType": "stroke", "symbolSize": 1369, "symbolStrokeWidth": 1.3, "symbolOpacity": 0.6, "labelOffset": 15, "rowPadding": 1.5, "clipHeight": 28,
                         "labelExpr": "datum.value == 'a' ? 'g₂ = 0.5g₂ᶜ¹' : datum.value == 'b' ? 'g₂ = 1.0g₂ᶜ³⁴' : 'g₂ = 10.0g₂ᶜ⁶⁸'"}}
  }
},
{
  "width": 449, "height": 333,
  "view": {"stroke": "#333333", "strokeWidth": 1, "fill": "white"},
  "title": {"text": "Integración de Langevin, g₁ = 1.01g₁min", "dx": 4},
  "encoding": {
    "x": {"field": "x", "type": "quantitative", "scale": {"domain": [-0.279, 0.2687], "nice": false, "zero": false},
          "axis": {"title": "x/g₁", "values": [-0.2, -0.1, 0, 0.1, 0.2], "format": ".1f", "tickSize": 3.5, "labelPadding": 3.5, "titlePadding": -3, "titleX": 228.5}},
    "y": {"field": "y", "type": "quantitative",
          "scale": {"type": "linear", "nice": false, "zero": false,
                    "domain": [-0.104, 0, 1, 1.25, 1.5, 2, 2.5, 3, 4, 5, 6, 7, 8, 10, 12.5, 15, 20, 25, 30, 40, 43.55],
                    "range": [332.3, 319.64, 197.88, 186.08, 176.44, 161.23, 149.43, 139.79, 124.57, 112.86, 103.13, 94.98, 87.92, 76.12, 64.32, 54.68, 39.47, 27.67, 18.03, 2.81, -1.7]},
          "axis": {"title": "P(x)", "values": [-0.08, -0.045, 0, 0.301, 0.477, 0.602, 0.699, 0.778, 0.845, 0.903, 0.954, 1, 2, 3, 4, 5, 6, 7, 8, 9, 10, 20, 30, 40],
                   "labelExpr": "datum.value === 0 ? '0' : datum.value === 1 ? '10⁰' : datum.value === 10 ? '10¹' : ''",
                   "labelOverlap": false,
                   "tickSize": {"condition": {"test": "datum.value === 0 || datum.value === 1 || datum.value === 10", "value": 3.5}, "value": 2}}},
    "color": {"field": "s", "type": "nominal",
              "scale": {"domain": ["a", "b", "c"], "range": ["#800080", "#ff0000", "#ffa500"]},
              "legend": {"orient": "none", "legendX": 304, "legendY": 12, "title": null, "symbolType": "circle", "symbolSize": 9, "symbolOpacity": 0.5, "labelOffset": 21, "rowPadding": 2.5, "clipHeight": 28,
                         "labelExpr": "datum.value == 'a' ? 'g₂ = 0.5g₂ᶜ¹' : datum.value == 'b' ? 'g₂ = 1.0g₂ᶜ³⁴' : 'g₂ = 10.0g₂ᶜ⁶⁸'"}}
  },
  "layer": [
    {"data": {"name": "R"}, "mark": {"type": "circle", "size": 10, "opacity": 0.7, "clip": true}},
    {"data": {"name": "N"}, "mark": {"type": "circle", "size": 45, "opacity": 0.85, "clip": true}}
  ]
}
]
}
